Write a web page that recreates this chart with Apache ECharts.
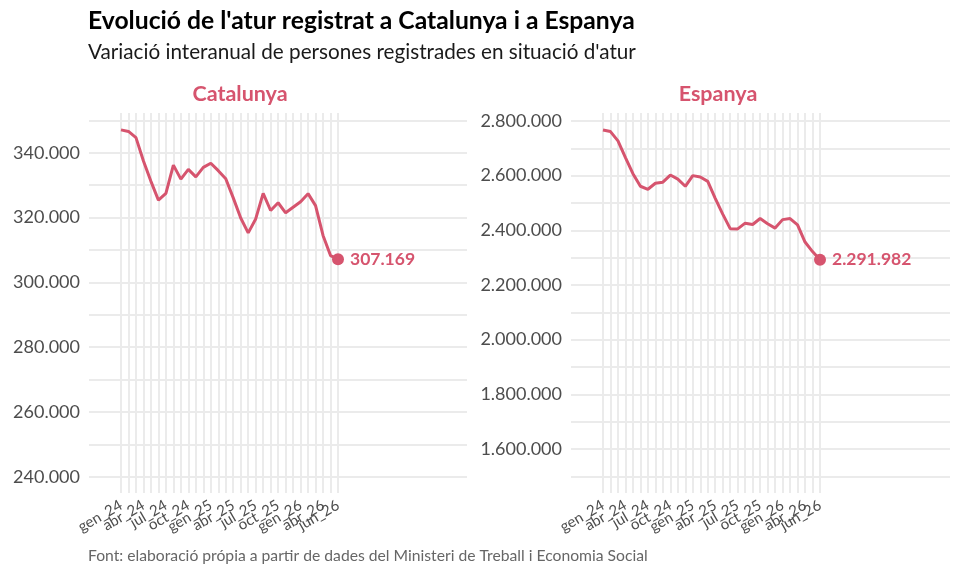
<!DOCTYPE html>
<html>
<head>
<meta charset="utf-8">
<script src="https://cdn.jsdelivr.net/npm/echarts@6/dist/echarts.min.js"></script>
<style>
  html, body { margin: 0; padding: 0; background: #fff; }
  #chart { width: 960px; height: 576px; }
</style>
</head>
<body>
<div id="chart"></div>
<script>
// mesos (gen 2024 - jun 2026)
const months = [
  'gen_24', 'feb_24', 'mar_24', 'abr_24', 'mai_24', 'jun_24', 'jul_24', 'ago_24', 'set_24', 'oct_24', 'nov_24', 'des_24',
  'gen_25', 'feb_25', 'mar_25', 'abr_25', 'mai_25', 'jun_25', 'jul_25', 'ago_25', 'set_25', 'oct_25', 'nov_25', 'des_25',
  'gen_26', 'feb_26', 'mar_26', 'abr_26', 'mai_26', 'jun_26'
]
const xTickLabels = ['gen_24', 'abr_24', 'jul_24', 'oct_24', 'gen_25', 'abr_25', 'jul_25', 'oct_25', 'gen_26', 'abr_26', 'jun_26']

// persones registrades en situació d'atur
const catalunya = [
  347100, 346600, 344700, 337500, 331200, 325400, 327500, 336200, 331900, 334900, 332600, 335500,
  336800, 334500, 332000, 326100, 319900, 315300, 319600, 327500, 322200, 324600, 321500, 323200,
  324900, 327400, 323700, 314500, 308300, 307169
]
const espanya = [
  2767000, 2761000, 2727000, 2666000, 2607000, 2561000, 2550000, 2572000, 2576000, 2602000, 2587000, 2561000,
  2600000, 2595000, 2579000, 2517000, 2459000, 2406000, 2405000, 2426000, 2421000, 2443000, 2424000, 2408000,
  2439000, 2443000, 2420000, 2357000, 2322000, 2291982
]

const lineColor = '#d6546e'
const gridColor = '#ebebeb'
const font = 'Lato'

const fmt = (v) => Math.round(v).toString().replace(/\B(?=(\d{3})+(?!\d))/g, '.')

// afegeix el punt final amb l'etiqueta
const withEnd = (arr) => arr.map((v, i) => {
  if (i !== arr.length - 1) return v
  return {
    value: v,
    symbol: 'circle',
    symbolSize: 12,
    label: {
      show: true,
      position: 'right',
      distance: 6,
      formatter: (p) => fmt(p.value),
      color: lineColor,
      fontFamily: font,
      fontWeight: 'bold',
      fontSize: 17.5
    }
  }
})

const yDisplay = (gridIndex, min, max, splitNumber, labelStep) => ({
  type: 'value',
  gridIndex: gridIndex,
  min: min,
  max: max,
  splitNumber: splitNumber,
  axisLine: { show: false },
  axisTick: { show: false },
  axisLabel: {
    showMinLabel: false,
    showMaxLabel: false,
    margin: 9,
    color: '#4d4d4d',
    fontFamily: font,
    fontSize: 18,
    formatter: (v) => (Math.round(v) % labelStep === 0 ? fmt(v) : '')
  },
  splitLine: {
    show: true,
    showMinLine: false,
    showMaxLine: false,
    lineStyle: { color: gridColor, width: 2 }
  }
})

const yHidden = (gridIndex, min, max) => ({
  type: 'value', gridIndex: gridIndex, min: min, max: max, show: false, splitLine: { show: false }
})

// totes les etiquetes es dibuixen (interval 0), només es veuen les de xTickLabels
const xCat = (gridIndex) => ({
  type: 'category',
  gridIndex: gridIndex,
  data: months,
  boundaryGap: false,
  axisLine: { show: false },
  axisTick: { show: false },
  axisLabel: {
    interval: 0,
    hideOverlap: false,
    formatter: (v) => (xTickLabels.includes(v) ? v : ''),
    rotate: 30,
    margin: 11,
    color: '#4d4d4d',
    fontFamily: font,
    fontSize: 15
  },
  splitLine: { show: true, interval: 0, lineStyle: { color: gridColor, width: 2 } }
})

const xHidden = (gridIndex) => ({ type: 'value', gridIndex: gridIndex, min: 0, max: 1, show: false })

const chart = echarts.init(document.getElementById('chart'), null, { renderer: 'canvas' })

chart.setOption({
  backgroundColor: '#ffffff',
  animation: false,
  title: [
    {
      text: "Evolució de l'atur registrat a Catalunya i a Espanya",
      left: 88, top: 9, padding: 0,
      textStyle: { fontFamily: font, fontWeight: 'bold', fontSize: 24.7, color: '#000' }
    },
    {
      text: "Variació interanual de persones registrades en situació d'atur",
      left: 88, top: 42, padding: 0,
      textStyle: { fontFamily: font, fontWeight: 'normal', fontSize: 20.7, color: '#1a1a1a' }
    },
    {
      text: 'Catalunya',
      left: 240, top: 83, padding: 0, textAlign: 'center',
      textStyle: { fontFamily: font, fontWeight: 'bold', fontSize: 21.5, color: lineColor }
    },
    {
      text: 'Espanya',
      left: 718, top: 83, padding: 0, textAlign: 'center',
      textStyle: { fontFamily: font, fontWeight: 'bold', fontSize: 21.5, color: lineColor }
    },
    {
      text: 'Font: elaboració própia a partir de dades del Ministeri de Treball i Economia Social',
      left: 88, top: 548, padding: 0,
      textStyle: { fontFamily: font, fontWeight: 'normal', fontSize: 15.7, color: '#666666' }
    }
  ],
  grid: [
    { left: 89, right: 493, top: 113, bottom: 83 },
    { left: 121, width: 217, top: 113, bottom: 83 },
    { left: 571, right: 10, top: 113, bottom: 83 },
    { left: 603, width: 217, top: 113, bottom: 83 }
  ],
  xAxis: [xHidden(0), xCat(1), xHidden(2), xCat(3)],
  yAxis: [
    yDisplay(0, 235000, 352300, 12, 20000),
    yHidden(1, 235000, 352300),
    yDisplay(2, 1439000, 2829000, 14, 200000),
    yHidden(3, 1439000, 2829000)
  ],
  series: [
    {
      name: 'Catalunya',
      type: 'line',
      xAxisIndex: 1,
      yAxisIndex: 1,
      data: withEnd(catalunya),
      symbol: 'none',
      showSymbol: true,
      itemStyle: { color: lineColor },
      lineStyle: { color: lineColor, width: 3 },
      z: 5
    },
    {
      name: 'Espanya',
      type: 'line',
      xAxisIndex: 3,
      yAxisIndex: 3,
      data: withEnd(espanya),
      symbol: 'none',
      showSymbol: true,
      itemStyle: { color: lineColor },
      lineStyle: { color: lineColor, width: 3 },
      z: 5
    }
  ]
})
</script>
</body>
</html>
